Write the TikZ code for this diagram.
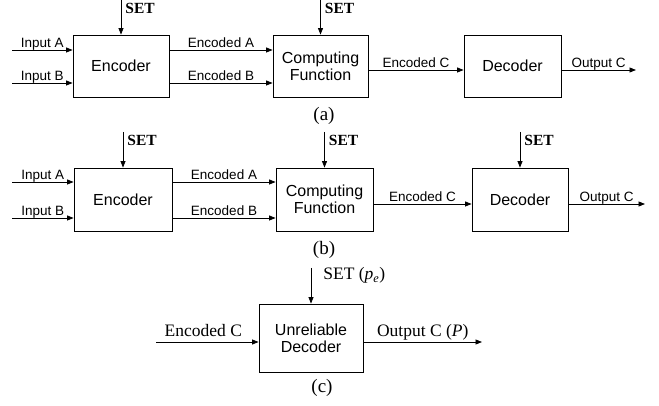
\documentclass[tikz,border=0pt]{standalone}
\usepackage{fontspec}
\setmainfont{Liberation Serif}
\newfontfamily\arialfont{Liberation Sans}
\usetikzlibrary{arrows.meta, positioning}

\begin{document}
\begin{tikzpicture}[x=1pt, y=-1pt,
  blk/.style={rectangle, draw, line width=0.8pt, minimum height=62pt, inner sep=0pt, align=center, font=\arialfont\fontsize{16}{17}\selectfont},
  arr/.style={-{Triangle[length=6.5pt, width=5pt]}, line width=0.8pt},
  lbl/.style={font=\arialfont\fontsize{13.5}{15}\selectfont, inner sep=0pt, anchor=base, yshift=2.7pt},
  serlbl/.style={font=\fontsize{17.5}{19}\selectfont, inner sep=0pt, anchor=base, yshift=6pt},
  setlbl/.style={font=\bfseries\fontsize{15.5}{17}\selectfont, inner sep=0pt, anchor=base west, xshift=4pt},
  captext/.style={font=\fontsize{19}{21}\selectfont}]

  \useasboundingbox (0,0) rectangle (659,406);

  % Part (a)
  \node[blk, minimum width=96pt] (encA) at (121,66) {Encoder};
  \node[blk, minimum width=95pt] (compA) at (320.5,66) {Computing\\Function};
  \node[blk, minimum width=97pt] (decA) at (512.5,66) {Decoder};

  \coordinate (inAa) at (12,50);
  \coordinate (inBa) at (12,83);
  \coordinate (outCa) at (636,70);

  \draw[arr] (encA.north |- 0,0) -- (encA.north) node[setlbl, pos=0.4] {SET};
  \draw[arr] (compA.north |- 0,0) -- (compA.north) node[setlbl, pos=0.4] {SET};
  \draw[arr] (inAa) -- (inAa -| encA.west) node[lbl, midway] {Input A};
  \draw[arr] (inBa) -- (inBa -| encA.west) node[lbl, midway] {Input B};
  \draw[arr] (inAa -| encA.east) -- (inAa -| compA.west) node[lbl, midway] {Encoded A};
  \draw[arr] (inBa -| encA.east) -- (inBa -| compA.west) node[lbl, midway] {Encoded B};
  \draw[arr] (outCa -| compA.east) -- (outCa -| decA.west) node[lbl, midway] {Encoded C};
  \draw[arr] (outCa -| decA.east) -- (outCa) node[lbl, midway] {Output C};

  \node[captext] (capA) at (324,116) {(a)};

  % Part (b)
  \node[blk, minimum width=98pt, minimum height=63pt] (encB) at (123,199.5) {Encoder};
  \node[blk, minimum width=97pt, minimum height=63pt] (compB) at (324.5,199.5) {Computing\\Function};
  \node[blk, minimum width=96pt, minimum height=63pt] (decB) at (520,199.5) {Decoder};

  \coordinate (inAb) at (12,182);
  \coordinate (inBb) at (12,218);
  \coordinate (outCb) at (645,204);

  \draw[arr] (encB.north |- 0,132) -- (encB.north) node[setlbl, pos=0.39] {SET};
  \draw[arr] (compB.north |- 0,132) -- (compB.north) node[setlbl, pos=0.39] {SET};
  \draw[arr] (decB.north |- 0,132) -- (decB.north) node[setlbl, pos=0.39] {SET};
  \draw[arr] (inAb) -- (inAb -| encB.west) node[lbl, midway] {Input A};
  \draw[arr] (inBb) -- (inBb -| encB.west) node[lbl, midway] {Input B};
  \draw[arr] (inAb -| encB.east) -- (inAb -| compB.west) node[lbl, midway] {Encoded A};
  \draw[arr] (inBb -| encB.east) -- (inBb -| compB.west) node[lbl, midway] {Encoded B};
  \draw[arr] (outCb -| compB.east) -- (outCb -| decB.west) node[lbl, midway] {Encoded C};
  \draw[arr] (outCb -| decB.east) -- (outCb) node[lbl, midway] {Output C};

  \node[captext] (capB) at (324,250) {(b)};

  % Part (c)
  \node[blk, minimum width=104pt, minimum height=68pt] (udec) at (311,338) {Unreliable\\Decoder};

  \coordinate (inC) at (156,342);
  \coordinate (outP) at (482,342);

  \draw[arr] (udec.north |- 0,268) -- (udec.north) node[serlbl, anchor=base west, yshift=0pt, xshift=12pt, pos=0.5] {SET (\textit{p}\textsubscript{\textit{e}})};
  \draw[arr] (inC) -- (inC -| udec.west) node[serlbl, midway, xshift=-4pt] {Encoded C};
  \draw[arr] (inC -| udec.east) -- (outP) node[serlbl, midway] {Output C (\textit{P})};

  \node[captext] (capC) at (322,388) {(c)};

\end{tikzpicture}
\end{document}
